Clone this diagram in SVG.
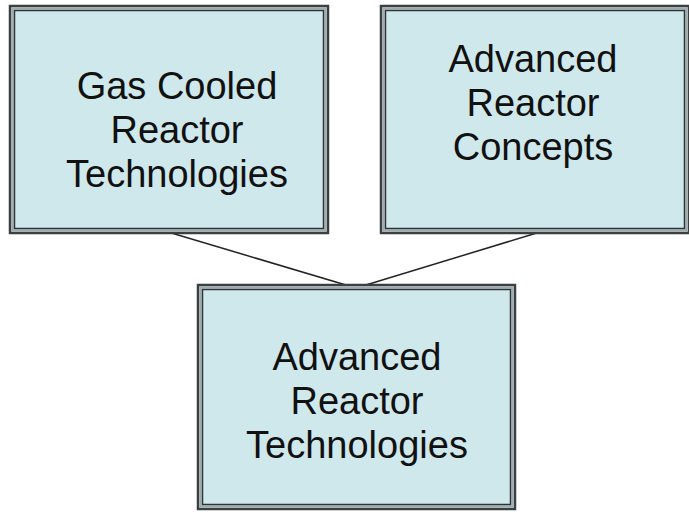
<svg xmlns="http://www.w3.org/2000/svg" width="689" height="512" viewBox="0 0 689 512">
<style>
.o{fill:#cfe8ec;stroke:#3a3f40;stroke-width:2.5}
.m{fill:none;stroke:#a3aaab;stroke-width:2}
.i{fill:none;stroke:#2f3536;stroke-width:1.5}
.t{font-family:"Liberation Sans",Arial,sans-serif;font-size:38px;fill:#111;text-anchor:middle}
.c{stroke:#222;stroke-width:1.5;fill:none}
</style>
<rect width="689" height="512" fill="#fff"/>
<g id="connectors">
<line class="c" x1="168" y1="232" x2="356" y2="288"/>
<line class="c" x1="540" y1="232" x2="356" y2="288"/>
</g>
<g id="gas">
<rect class="o" x="10" y="6" width="318" height="227"/>
<rect class="m" x="12.5" y="8.5" width="313" height="222"/>
<rect class="i" x="14.5" y="10.5" width="309" height="218"/>
<text class="t" x="177" y="99">Gas Cooled</text>
<text class="t" x="177" y="143">Reactor</text>
<text class="t" x="177" y="187">Technologies</text>
</g>
<g id="concepts">
<rect class="o" x="381" y="6" width="308" height="227"/>
<rect class="m" x="383.5" y="8.5" width="303" height="222"/>
<rect class="i" x="385.5" y="10.5" width="299" height="218"/>
<text class="t" x="533" y="72">Advanced</text>
<text class="t" x="533" y="116">Reactor</text>
<text class="t" x="533" y="160">Concepts</text>
</g>
<g id="tech">
<rect class="o" x="198" y="285" width="317" height="224"/>
<rect class="m" x="200.5" y="287.5" width="312" height="219"/>
<rect class="i" x="202.5" y="289.5" width="308" height="215"/>
<text class="t" x="357" y="370">Advanced</text>
<text class="t" x="357" y="414">Reactor</text>
<text class="t" x="357" y="458">Technologies</text>
</g>
</svg>
